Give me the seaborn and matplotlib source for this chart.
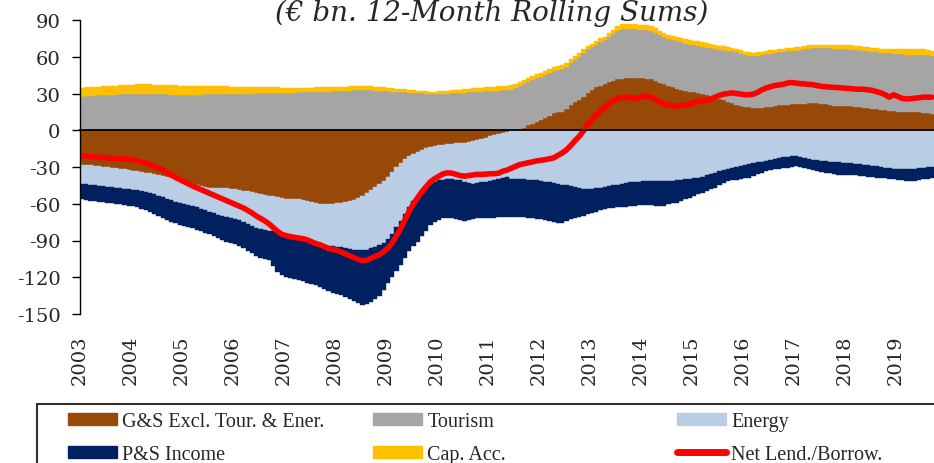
import numpy as np
import pandas as pd
import seaborn as sns
import matplotlib.pyplot as plt
from matplotlib.patches import Patch, Rectangle
from matplotlib.lines import Line2D

# 12-month rolling sums, EUR bn, monthly from Jan 2003 to Sep 2019 (one row per year)
gs_excl = [
    -28.0, -28.3, -28.7, -29.0, -29.4, -29.8, -30.2, -30.5, -31.0, -31.5, -32.0, -32.5,
    -33.0, -33.5, -34.0, -34.5, -35.2, -36.0, -36.7, -37.4, -38.2, -39.0, -39.8, -40.6,
    -41.5, -42.5, -43.5, -44.5, -45.6, -46.3, -46.8, -47.0, -47.2, -47.4, -47.5, -47.8,
    -48.3, -48.8, -49.3, -49.8, -50.3, -51.0, -51.8, -52.6, -53.3, -54.0, -54.7, -55.4,
    -56.0, -56.5, -56.5, -56.5, -57.0, -57.8, -58.5, -59.2, -59.8, -60.0, -60.0, -59.8,
    -59.5, -59.2, -58.7, -58.0, -57.0, -55.5, -53.5, -51.0, -48.5, -46.0, -44.0, -41.5,
    -38.0, -34.0, -30.0, -26.5, -23.5, -21.0, -19.5, -17.5, -16.0, -14.5, -13.3, -12.8,
    -12.3, -11.8, -11.3, -11.0, -10.7, -10.4, -10.0, -9.3, -8.5, -7.7, -6.9, -6.0,
    -4.6, -4.0, -3.2, -2.2, -1.2, 0.3, 0.8, 1.0, 2.0, 4.0, 5.5, 7.0,
    8.5, 10.0, 12.0, 14.0, 14.5, 15.0, 17.0, 21.0, 23.0, 25.0, 27.5, 30.5,
    33.0, 35.5, 36.5, 37.5, 39.0, 40.5, 41.5, 42.0, 42.5, 43.0, 43.0, 42.8,
    42.5, 42.0, 41.5, 40.0, 38.5, 37.5, 36.0, 35.0, 34.0, 32.7, 31.8, 31.3,
    31.0, 30.8, 30.0, 29.0, 27.8, 26.7, 25.5, 24.5, 23.2, 22.6, 21.0, 19.8,
    19.0, 18.8, 18.5, 18.5, 18.5, 18.8, 19.2, 19.8, 20.5, 20.8, 21.0, 21.2,
    21.3, 21.5, 21.8, 22.0, 22.0, 21.9, 21.8, 21.2, 20.6, 20.2, 20.0, 20.0,
    20.0, 19.8, 19.2, 18.8, 18.4, 18.0, 17.6, 17.2, 16.8, 16.4, 15.8, 15.5,
    15.2, 15.0, 14.8, 14.6, 14.5, 14.5, 14.4, 13.8, 13.1,
]
tourism = [
    27.5, 27.8, 28.1, 28.3, 28.5, 28.7, 28.9, 29.0, 29.1, 29.2, 29.3, 29.4,
    29.4, 29.5, 29.5, 29.4, 29.4, 29.3, 29.3, 29.2, 29.2, 29.1, 29.1, 29.0,
    29.0, 29.0, 29.0, 29.1, 29.1, 29.2, 29.2, 29.3, 29.3, 29.4, 29.5, 29.5,
    29.6, 29.7, 29.8, 29.9, 30.0, 30.1, 30.2, 30.3, 30.4, 30.4, 30.5, 30.5,
    30.6, 30.7, 30.8, 30.9, 31.0, 31.1, 31.2, 31.3, 31.4, 31.5, 31.6, 31.7,
    31.9, 32.0, 32.2, 32.3, 32.5, 32.6, 32.7, 32.7, 32.6, 32.4, 32.2, 32.0,
    31.7, 31.5, 31.3, 31.1, 30.9, 30.7, 30.5, 30.3, 30.1, 30.0, 29.9, 29.8,
    29.8, 29.9, 30.0, 30.2, 30.4, 30.6, 30.8, 31.0, 31.2, 31.4, 31.6, 31.9,
    32.1, 32.3, 32.4, 32.5, 32.6, 32.9, 33.7, 35.0, 35.6, 35.5, 35.5, 35.5,
    35.0, 34.8, 34.6, 34.4, 34.5, 34.8, 34.5, 34.0, 34.2, 35.0, 35.5, 35.5,
    35.0, 34.5, 35.5, 36.0, 37.0, 38.0, 39.5, 40.5, 40.5, 39.8, 39.5, 39.4,
    39.5, 39.8, 39.8, 39.5, 39.0, 38.5, 38.5, 38.5, 38.5, 39.0, 39.0, 38.7,
    38.5, 38.2, 38.2, 38.5, 39.0, 39.6, 40.3, 40.8, 41.6, 41.8, 42.5, 42.7,
    42.5, 42.0, 42.0, 42.3, 43.0, 43.2, 43.3, 43.2, 43.0, 43.2, 43.4, 43.4,
    43.7, 44.0, 44.2, 44.5, 44.8, 45.1, 45.2, 45.6, 46.2, 46.4, 46.5, 46.3,
    46.0, 46.0, 46.3, 46.4, 46.4, 46.4, 46.4, 46.4, 46.4, 46.6, 46.9, 47.0,
    47.0, 47.0, 47.0, 47.1, 47.1, 47.1, 47.1, 47.4, 47.7,
]
energy = [
    -15.6, -15.7, -15.7, -15.8, -15.8, -15.8, -15.8, -15.9, -15.8, -15.7, -15.6, -15.5,
    -15.5, -15.5, -15.5, -15.5, -16.0, -16.4, -16.9, -17.4, -17.8, -18.2, -18.4, -18.6,
    -18.5, -18.5, -18.5, -18.5, -18.4, -18.9, -19.6, -20.6, -21.6, -22.6, -23.5, -24.0,
    -24.2, -24.7, -25.7, -26.7, -27.7, -29.0, -29.2, -28.9, -28.7, -28.5, -28.8, -29.6,
    -30.5, -31.5, -32.0, -32.5, -32.5, -32.7, -33.0, -33.3, -33.5, -33.8, -34.2, -34.9,
    -35.7, -36.5, -37.5, -38.7, -40.4, -42.3, -44.5, -46.8, -48.0, -49.5, -50.0, -50.5,
    -51.0, -51.0, -49.0, -47.5, -45.0, -42.0, -38.5, -36.5, -34.0, -31.5, -30.7, -29.7,
    -28.7, -28.7, -28.7, -29.0, -29.8, -30.6, -32.0, -33.7, -35.0, -35.3, -35.6, -36.0,
    -36.9, -37.0, -36.8, -36.8, -37.3, -39.5, -40.0, -40.0, -40.0, -40.3, -40.6, -41.0,
    -41.5, -42.0, -42.6, -43.2, -44.0, -44.5, -45.0, -45.5, -46.0, -46.8, -47.7, -48.0,
    -48.0, -47.5, -47.0, -46.3, -45.6, -45.0, -44.3, -43.6, -42.8, -42.5, -42.2, -42.0,
    -41.8, -41.6, -41.5, -41.5, -41.5, -41.5, -41.5, -41.3, -41.0, -40.5, -40.0, -39.5,
    -39.0, -38.7, -37.8, -36.8, -35.7, -34.6, -33.6, -32.5, -31.5, -30.5, -29.8, -29.0,
    -28.4, -27.8, -27.0, -26.3, -25.6, -25.0, -24.3, -23.5, -22.8, -22.2, -21.5, -21.2,
    -21.0, -21.5, -22.3, -23.2, -24.0, -24.5, -25.0, -25.3, -25.6, -25.9, -26.2, -26.5,
    -26.8, -27.0, -27.3, -27.6, -28.0, -28.5, -29.0, -29.5, -30.0, -30.5, -31.0, -31.4,
    -31.7, -32.0, -32.0, -31.8, -31.5, -31.2, -30.8, -30.4, -30.0,
]
ps_income = [
    -12.9, -13.0, -13.0, -13.0, -13.0, -13.0, -13.0, -13.0, -13.2, -13.4, -13.6, -13.8,
    -13.7, -14.0, -14.7, -15.5, -15.8, -16.1, -16.4, -16.7, -17.0, -17.3, -17.8, -18.1,
    -18.3, -18.2, -18.2, -18.2, -18.2, -18.3, -18.6, -18.9, -19.2, -19.5, -20.0, -20.2,
    -20.0, -21.0, -21.5, -22.0, -22.5, -22.5, -23.0, -23.5, -24.0, -28.5, -32.0, -33.0,
    -33.0, -32.5, -33.0, -33.5, -33.8, -34.0, -34.0, -34.0, -34.7, -35.7, -36.8, -37.8,
    -38.3, -39.1, -39.8, -40.8, -41.6, -43.2, -45.0, -44.2, -43.5, -42.0, -41.0, -38.5,
    -36.0, -35.0, -36.0, -36.0, -35.5, -35.5, -36.5, -37.0, -36.0, -36.0, -33.5, -32.5,
    -32.0, -31.3, -31.5, -32.0, -32.0, -32.5, -32.0, -30.5, -29.0, -29.0, -29.0, -29.5,
    -30.0, -30.5, -31.2, -32.0, -32.3, -31.0, -30.5, -30.8, -31.0, -31.2, -31.4, -31.5,
    -31.3, -31.3, -31.4, -31.8, -31.5, -31.0, -29.0, -27.0, -25.5, -24.2, -22.3, -20.5,
    -19.5, -19.0, -18.5, -18.3, -18.2, -18.3, -18.7, -19.1, -19.5, -19.5, -19.4, -19.3,
    -19.2, -19.4, -19.5, -20.0, -20.5, -20.0, -19.0, -18.2, -18.0, -17.5, -16.5, -15.5,
    -14.7, -13.7, -13.2, -12.7, -12.3, -12.3, -11.4, -10.5, -10.0, -10.5, -10.7, -10.5,
    -10.6, -10.9, -10.5, -9.7, -8.9, -8.3, -8.2, -8.5, -8.7, -8.8, -9.0, -8.8,
    -8.5, -8.5, -8.5, -8.3, -8.3, -8.7, -9.0, -9.3, -9.7, -10.1, -10.0, -9.9,
    -9.8, -9.8, -9.5, -9.6, -9.5, -9.3, -9.2, -9.1, -9.0, -8.8, -8.6, -8.6,
    -8.8, -9.0, -9.5, -9.7, -9.7, -9.3, -9.2, -9.1, -9.0,
]
cap_acc = [
    7.0, 7.2, 7.4, 7.0, 6.8, 7.4, 7.6, 7.5, 7.3, 7.6, 7.8, 7.8,
    7.9, 8.0, 8.1, 8.2, 8.0, 7.8, 7.9, 8.0, 7.8, 7.6, 7.5, 7.4,
    7.3, 7.2, 7.2, 7.1, 7.0, 6.9, 6.8, 6.9, 6.8, 6.6, 6.4, 6.2,
    6.0, 5.9, 5.7, 5.5, 5.3, 5.2, 5.0, 4.8, 4.6, 4.5, 4.4, 4.2,
    4.1, 4.0, 3.9, 3.8, 3.8, 3.7, 3.6, 3.6, 3.5, 3.5, 3.5, 3.5,
    3.5, 3.5, 3.4, 3.5, 3.6, 3.5, 3.5, 3.4, 3.3, 3.2, 3.0, 2.9,
    2.8, 2.7, 2.6, 2.5, 2.4, 2.2, 2.0, 1.9, 1.8, 1.7, 1.7, 1.8,
    1.9, 2.0, 2.2, 2.4, 2.5, 2.6, 2.7, 2.8, 2.9, 3.0, 3.1, 3.2,
    3.3, 3.4, 3.5, 3.5, 3.6, 3.6, 3.5, 3.5, 3.4, 3.4, 3.3, 3.3,
    3.3, 3.3, 3.4, 3.4, 3.5, 3.5, 3.5, 3.5, 3.4, 3.2, 3.0, 2.9,
    2.8, 2.8, 2.9, 3.0, 3.3, 3.6, 3.9, 4.0, 4.0, 4.0, 4.0, 4.0,
    4.0, 4.0, 4.0, 3.9, 3.8, 3.7, 3.6, 3.5, 3.5, 3.5, 3.5, 3.5,
    3.5, 3.5, 3.5, 3.5, 3.5, 3.4, 3.3, 3.2, 3.1, 3.0, 2.9, 2.8,
    2.7, 2.7, 2.7, 2.7, 2.7, 2.7, 2.7, 2.7, 2.7, 2.7, 2.7, 2.7,
    2.7, 2.7, 2.7, 2.7, 2.7, 2.7, 2.7, 2.8, 2.9, 3.0, 3.1, 3.2,
    3.3, 3.4, 3.5, 3.5, 3.5, 3.5, 3.5, 3.5, 3.5, 3.5, 3.5, 3.6,
    3.8, 4.0, 4.2, 4.4, 4.5, 4.5, 4.5, 4.0, 3.5,
]
net_lend = [
    -21.0, -21.3, -21.6, -21.8, -22.0, -22.3, -22.5, -22.8, -23.0, -23.3, -23.5, -23.7,
    -24.2, -25.0, -26.0, -27.0, -28.0, -29.5, -31.0, -32.5, -34.5, -36.5, -38.5, -40.3,
    -42.0, -43.8, -45.5, -47.0, -48.5, -50.0, -51.5, -53.0, -54.5, -56.0, -57.5, -59.0,
    -60.5, -62.0, -63.5, -65.5, -67.5, -70.0, -72.0, -74.0, -76.5, -79.5, -82.5, -85.0,
    -86.0, -86.8, -87.5, -88.0, -88.5, -89.5, -91.0, -92.5, -93.5, -95.0, -96.5, -97.5,
    -98.0, -99.5, -101.0, -102.5, -104.0, -105.5, -106.5, -106.0, -104.5, -103.0, -101.5, -99.0,
    -96.0, -92.0, -86.0, -80.0, -73.0, -66.0, -60.0, -55.0, -50.0, -46.0, -42.0, -39.5,
    -37.5, -35.5, -34.8, -35.0, -36.0, -37.0, -37.5, -37.0, -36.5, -36.0, -36.0, -35.8,
    -35.5, -35.5, -35.0, -33.5, -32.5, -31.0, -29.5, -28.0, -27.3, -26.5, -25.8, -25.0,
    -24.5, -24.0, -23.3, -22.5, -20.5, -18.5, -16.0, -12.5, -8.5, -5.0, -0.5, 4.5,
    8.5, 12.5, 16.0, 18.5, 21.5, 24.0, 26.0, 26.8, 27.0, 26.5, 26.0, 26.5,
    28.0, 27.5, 27.0, 25.0, 23.0, 21.5, 20.5, 20.0, 20.0, 20.0, 20.5, 21.5,
    22.5, 23.5, 24.0, 24.5, 25.5, 27.0, 28.5, 29.5, 30.0, 30.5, 30.0, 29.5,
    29.0, 29.0, 29.5, 31.0, 33.0, 34.5, 35.5, 36.5, 37.0, 37.5, 38.5, 39.0,
    38.5, 38.0, 37.8, 37.5, 37.2, 36.5, 35.8, 35.5, 35.2, 35.0, 34.8, 34.5,
    34.2, 34.0, 33.6, 33.5, 33.5, 33.0, 32.5, 31.5, 30.5, 29.0, 27.0, 29.0,
    27.5, 26.0, 25.5, 25.8, 26.2, 26.5, 27.0, 27.0, 27.0,
]

labels = ["G&S Excl. Tour. & Ener.", "Tourism", "Energy", "P&S Income", "Cap. Acc.", "Net Lend./Borrow."]
colors = ["#984807", "#A5A5A5", "#B9CDE5", "#002060", "#FFC000", "#FF0000"]
years = list(range(2003, 2020))

dates = pd.date_range("2003-01-01", periods=len(net_lend), freq="MS")
xpos = np.asarray(dates.year + (dates.month - 1) / 12, dtype=float)
df = pd.DataFrame({"gs": gs_excl, "tour": tourism, "energy": energy,
                   "ps": ps_income, "cap": cap_acc, "net": net_lend}, index=xpos)

sns.set_theme(style="white")
plt.rcParams["font.family"] = ["DejaVu Serif", "DejaVu Sans"]
plt.rcParams["axes.unicode_minus"] = False

fig = plt.figure(figsize=(9.34, 4.64), dpi=100)
ax = fig.add_axes([80 / 934, 1 - 315 / 464, 854 / 934, 294 / 464])

# stacked monthly bars, positives up from 0 and negatives down from 0
pos = np.zeros(len(df))
neg = np.zeros(len(df))
for col, color in zip(["gs", "tour", "energy", "ps", "cap"], colors[:5]):
    v = df[col].to_numpy()
    base = np.where(v >= 0, pos, neg)
    ax.bar(df.index, v, width=1 / 12, bottom=base, align="edge",
           color=color, edgecolor=color, linewidth=0.3)
    pos = pos + np.clip(v, 0, None)
    neg = neg + np.clip(v, None, 0)

sns.lineplot(x=df.index + 1 / 24, y=df["net"], color=colors[5], linewidth=4,
             ax=ax, legend=False, solid_capstyle="round")

ax.set_xlim(2003, 2003 + len(df) / 12)
ax.set_ylim(-150, 90)
ax.set_yticks(range(-150, 91, 30))
ax.set_xticks(years)
ax.set_xlabel("")
ax.set_ylabel("")
ax.spines["top"].set_visible(False)
ax.spines["right"].set_visible(False)
ax.spines["bottom"].set_position(("data", 0))
ax.spines["bottom"].set_color("black")
ax.spines["bottom"].set_linewidth(1.3)
ax.spines["left"].set_color("black")
ax.spines["left"].set_linewidth(1.0)
ax.tick_params(axis="x", direction="out", length=5, width=1, color="black", labelbottom=False)
ax.tick_params(axis="y", direction="out", length=6, width=1, color="black",
               labelsize=14, pad=8, left=True)

sec = ax.secondary_xaxis("bottom")
sec.set_xticks(years)
sec.set_xticklabels([str(y) for y in years], rotation=90, fontsize=14)
sec.tick_params(length=0, pad=15)
sec.spines["bottom"].set_visible(False)

fig.text(0.526, 1 - 21 / 464, "(\u20ac bn. 12-Month Rolling Sums)", style="italic",
         fontsize=20, ha="center", va="baseline")

# legend frame, cut by the right and bottom edges
fig.add_artist(Rectangle((37 / 934, -0.05), 1.0, 0.05 + (1 - 405 / 464),
                         transform=fig.transFigure, fill=False, ec="#303030", lw=1.5))

handles = [Patch(color=c) for c in colors[:5]]
handles.append(Line2D([], [], color=colors[5], lw=5, solid_capstyle="round"))
columns = [(68, [0, 3]), (373, [1, 4]), (677, [2, 5])]
for xpx, idx in columns:
    fig.legend([handles[i] for i in idx], [labels[i] for i in idx],
               loc="upper left", bbox_to_anchor=(xpx / 934, 1 - 413 / 464),
               frameon=False, prop={"family": "Liberation Serif", "size": 14.5},
               handlelength=2.45, handleheight=0.55, handletextpad=0.25,
               labelspacing=0.68, borderpad=0, borderaxespad=0)

fig.savefig("out.png", dpi=100)
